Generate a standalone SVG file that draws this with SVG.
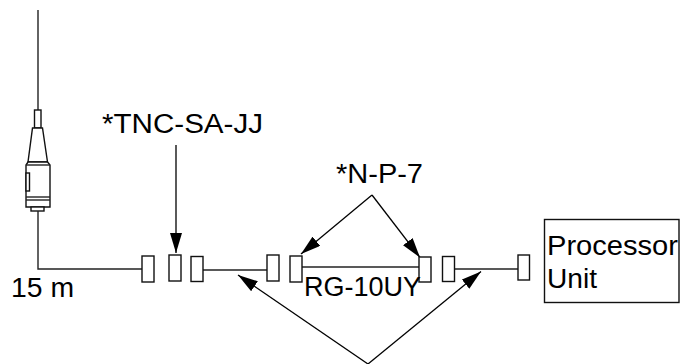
<svg xmlns="http://www.w3.org/2000/svg" width="680" height="364" viewBox="0 0 680 364">
<style>
.ln{stroke:#222;stroke-width:1.4;fill:none}
.cn{stroke:#111;stroke-width:1.4;fill:#fff}
.ar{stroke:#000;stroke-width:1.3;fill:none}
.t{font-family:"Liberation Sans",Arial,sans-serif;font-size:27px;fill:#000}
</style>
<defs>
<marker id="ah" viewBox="0 0 20 12" refX="20" refY="6" markerWidth="20" markerHeight="12" markerUnits="userSpaceOnUse" orient="auto">
<path d="M0,0 L20,6 L0,12 Z" fill="#000"/>
</marker>
</defs>
<rect width="680" height="364" fill="#fff"/>
<g id="antenna">
<line class="ln" x1="38" y1="10" x2="38" y2="110"/>
<rect class="cn" x="34.5" y="110" width="6.5" height="18"/>
<path class="cn" d="M32.5,128 L42.5,128 L47.5,162 L28,162 Z"/>
<path class="cn" d="M28,162 L47.5,162 L50,165 L50,207 L26,207 L26,165 Z"/>
<line class="ln" x1="26" y1="165" x2="50" y2="165"/>
<rect class="cn" x="26" y="173" width="3.5" height="18"/>
<line class="ln" x1="26" y1="197" x2="50" y2="197"/>
<line class="ln" x1="26" y1="200" x2="50" y2="200"/>
<rect class="cn" x="31" y="207" width="13" height="4"/>
</g>
<g id="connectors">
<polyline class="ln" points="38,211 38,269 142,269"/>
<line class="ln" x1="203" y1="270" x2="267" y2="270"/>
<line class="ln" x1="302" y1="267" x2="419" y2="267"/>
<line class="ln" x1="454" y1="269" x2="518" y2="269"/>
<line class="ar" x1="176" y1="145" x2="176" y2="253" marker-end="url(#ah)"/>
<line class="ar" x1="372" y1="195" x2="301" y2="254" marker-end="url(#ah)"/>
<line class="ar" x1="372" y1="195" x2="420" y2="257.5" marker-end="url(#ah)"/>
<line class="ar" x1="368" y1="364" x2="238" y2="275" marker-end="url(#ah)"/>
<line class="ar" x1="368" y1="364" x2="481" y2="271.5" marker-end="url(#ah)"/>
</g>
<g id="tnc">
<rect class="cn" x="142" y="256" width="12" height="26"/>
<rect class="cn" x="169" y="255" width="12" height="26"/>
<rect class="cn" x="191" y="256.5" width="12" height="25"/>
</g>
<g id="np7-left">
<rect class="cn" x="267" y="255" width="12" height="26"/>
<rect class="cn" x="290" y="256" width="12" height="26"/>
</g>
<g id="np7-right">
<rect class="cn" x="419" y="257" width="12" height="25"/>
<rect class="cn" x="442.5" y="256.5" width="12" height="25"/>
</g>
<g id="end-connector">
<rect class="cn" x="518" y="255" width="11.5" height="25"/>
</g>
<g id="processor">
<rect class="cn" x="544.5" y="219.5" width="134.5" height="83"/>
<text class="t" x="547" y="255" textLength="131" lengthAdjust="spacingAndGlyphs">Processor</text>
<text class="t" x="547" y="288" textLength="50" lengthAdjust="spacingAndGlyphs">Unit</text>
</g>
<text class="t" x="102" y="133" textLength="161" lengthAdjust="spacingAndGlyphs">*TNC-SA-JJ</text>
<text class="t" x="336" y="183" textLength="87" lengthAdjust="spacingAndGlyphs">*N-P-7</text>
<text class="t" x="304" y="296">RG-10UY</text>
<text class="t" x="11" y="297" textLength="63" lengthAdjust="spacingAndGlyphs">15 m</text>
</svg>
